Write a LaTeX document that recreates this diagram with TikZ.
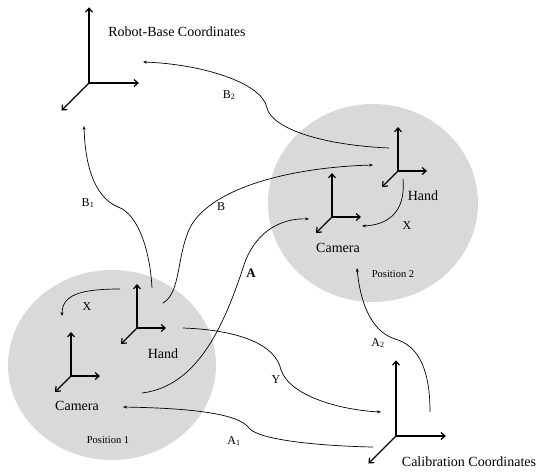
\documentclass[tikz,border=0pt]{standalone}
\usepackage{fontspec}
\setmainfont{Liberation Serif}
\usetikzlibrary{arrows.meta}

\tikzset{
  axis/.style={line width=1.2pt, -{Straight Barb[length=4pt,width=7pt]}},
  link/.style={line width=0.7pt, -{Stealth[length=4pt,width=3pt]}},
  zone/.style={fill=black!15},
  title/.style={font=\fontsize{14}{16}\selectfont, inner sep=1pt},
  lbl/.style={font=\fontsize{12}{14}\selectfont, inner sep=1pt},
  poslabel/.style={font=\fontsize{10.5}{12}\selectfont, inner sep=1pt},
  coordframe/.pic={
    \draw[axis] (0,0) -- (0,-44);
    \draw[axis] (0,0) -- (29,0);
    \draw[axis] (0,0) -- (-16,16);
  }
}

\begin{document}
\begin{tikzpicture}[x=1pt, y=-1pt]
  \useasboundingbox (0,0) rectangle (537,472);

  % Shaded positions
  \fill[zone] (112,365) ellipse [x radius=104, y radius=95];
  \fill[zone] (373,203) ellipse [x radius=105, y radius=99];

  % Frames
  \pic[scale=1.72] at (89,83) {coordframe};
  \pic[scale=1.72] at (396,436) {coordframe};
  \pic at (398,171) {coordframe};
  \pic at (332,217) {coordframe};
  \pic at (137,328) {coordframe};
  \pic at (71,376) {coordframe};

  % Frame names
  \node[title] (robot) at (177,32) {Robot-Base Coordinates};
  \node[title] (calib) at (469,462) {Calibration Coordinates};
  \node[title] (hand2) at (423,196) {Hand};
  \node[title] (cam2) at (338,248) {Camera};
  \node[title] (hand1) at (163,354) {Hand};
  \node[title] (cam1) at (77,406) {Camera};
  \node[poslabel] (pos2) at (393,274) {Position 2};
  \node[poslabel] (pos1) at (108,440) {Position 1};

  % Connector ends
  \coordinate (b2s) at (389,148);
  \coordinate (b2e) at (143,62);
  \coordinate (b1s) at (152,288);
  \coordinate (b1e) at (84,126);
  \coordinate (bs) at (163,303);
  \coordinate (be) at (373,165);
  \coordinate (as) at (142,393);
  \coordinate (ae) at (309,219);
  \coordinate (ys) at (183,328);
  \coordinate (ye) at (381,412);
  \coordinate (a1s) at (373,447);
  \coordinate (a1e) at (123,407);
  \coordinate (a2s) at (430,412);
  \coordinate (a2e) at (357,268);
  \coordinate (x2s) at (403,179);
  \coordinate (x2e) at (362,226);
  \coordinate (x1s) at (120,289);
  \coordinate (x1e) at (62,316);

  % Transformations
  \draw[link] (b2s) .. controls (320,145) and (272,128) .. (267,108)
    .. controls (262,82) and (200,64) .. (b2e);
  \draw[link] (b1s) .. controls (150,250) and (138,214) .. (118,207)
    .. controls (92,196) and (85,160) .. (b1e);
  \draw[link] (bs) .. controls (182,292) and (176,252) .. (192,224)
    .. controls (218,184) and (300,167) .. (be);
  \draw[link] (as) .. controls (200,386) and (226,320) .. (245,262)
    .. controls (258,228) and (285,218) .. (ae);
  \draw[link] (ys) .. controls (240,330) and (276,345) .. (281,370)
    .. controls (290,396) and (340,410) .. (ye);
  \draw[link] (a1s) .. controls (320,446) and (258,440) .. (249,428)
    .. controls (238,412) and (180,408) .. (a1e);
  \draw[link] (a2s) .. controls (430,372) and (420,346) .. (395,339)
    .. controls (370,331) and (360,300) .. (a2e);
  \draw[link] (x2s) .. controls (406,214) and (386,225) .. (x2e);
  \draw[link] (x1s) .. controls (80,289) and (62,295) .. (x1e);

  % Labels
  \node[lbl] (lb2) at (229,95) {B\textsubscript{2}};
  \node[lbl] (lb1) at (88,203) {B\textsubscript{1}};
  \node[lbl] (lb) at (221,207) {B};
  \node[lbl, font=\fontsize{13}{14}\selectfont\bfseries] (la) at (251,273) {A};
  \node[lbl] (ly) at (276,380) {Y};
  \node[lbl] (la1) at (234,441) {A\textsubscript{1}};
  \node[lbl] (la2) at (378,343) {A\textsubscript{2}};
  \node[lbl] (lx2) at (407,226) {X};
  \node[lbl] (lx1) at (87,307) {X};
\end{tikzpicture}
\end{document}
